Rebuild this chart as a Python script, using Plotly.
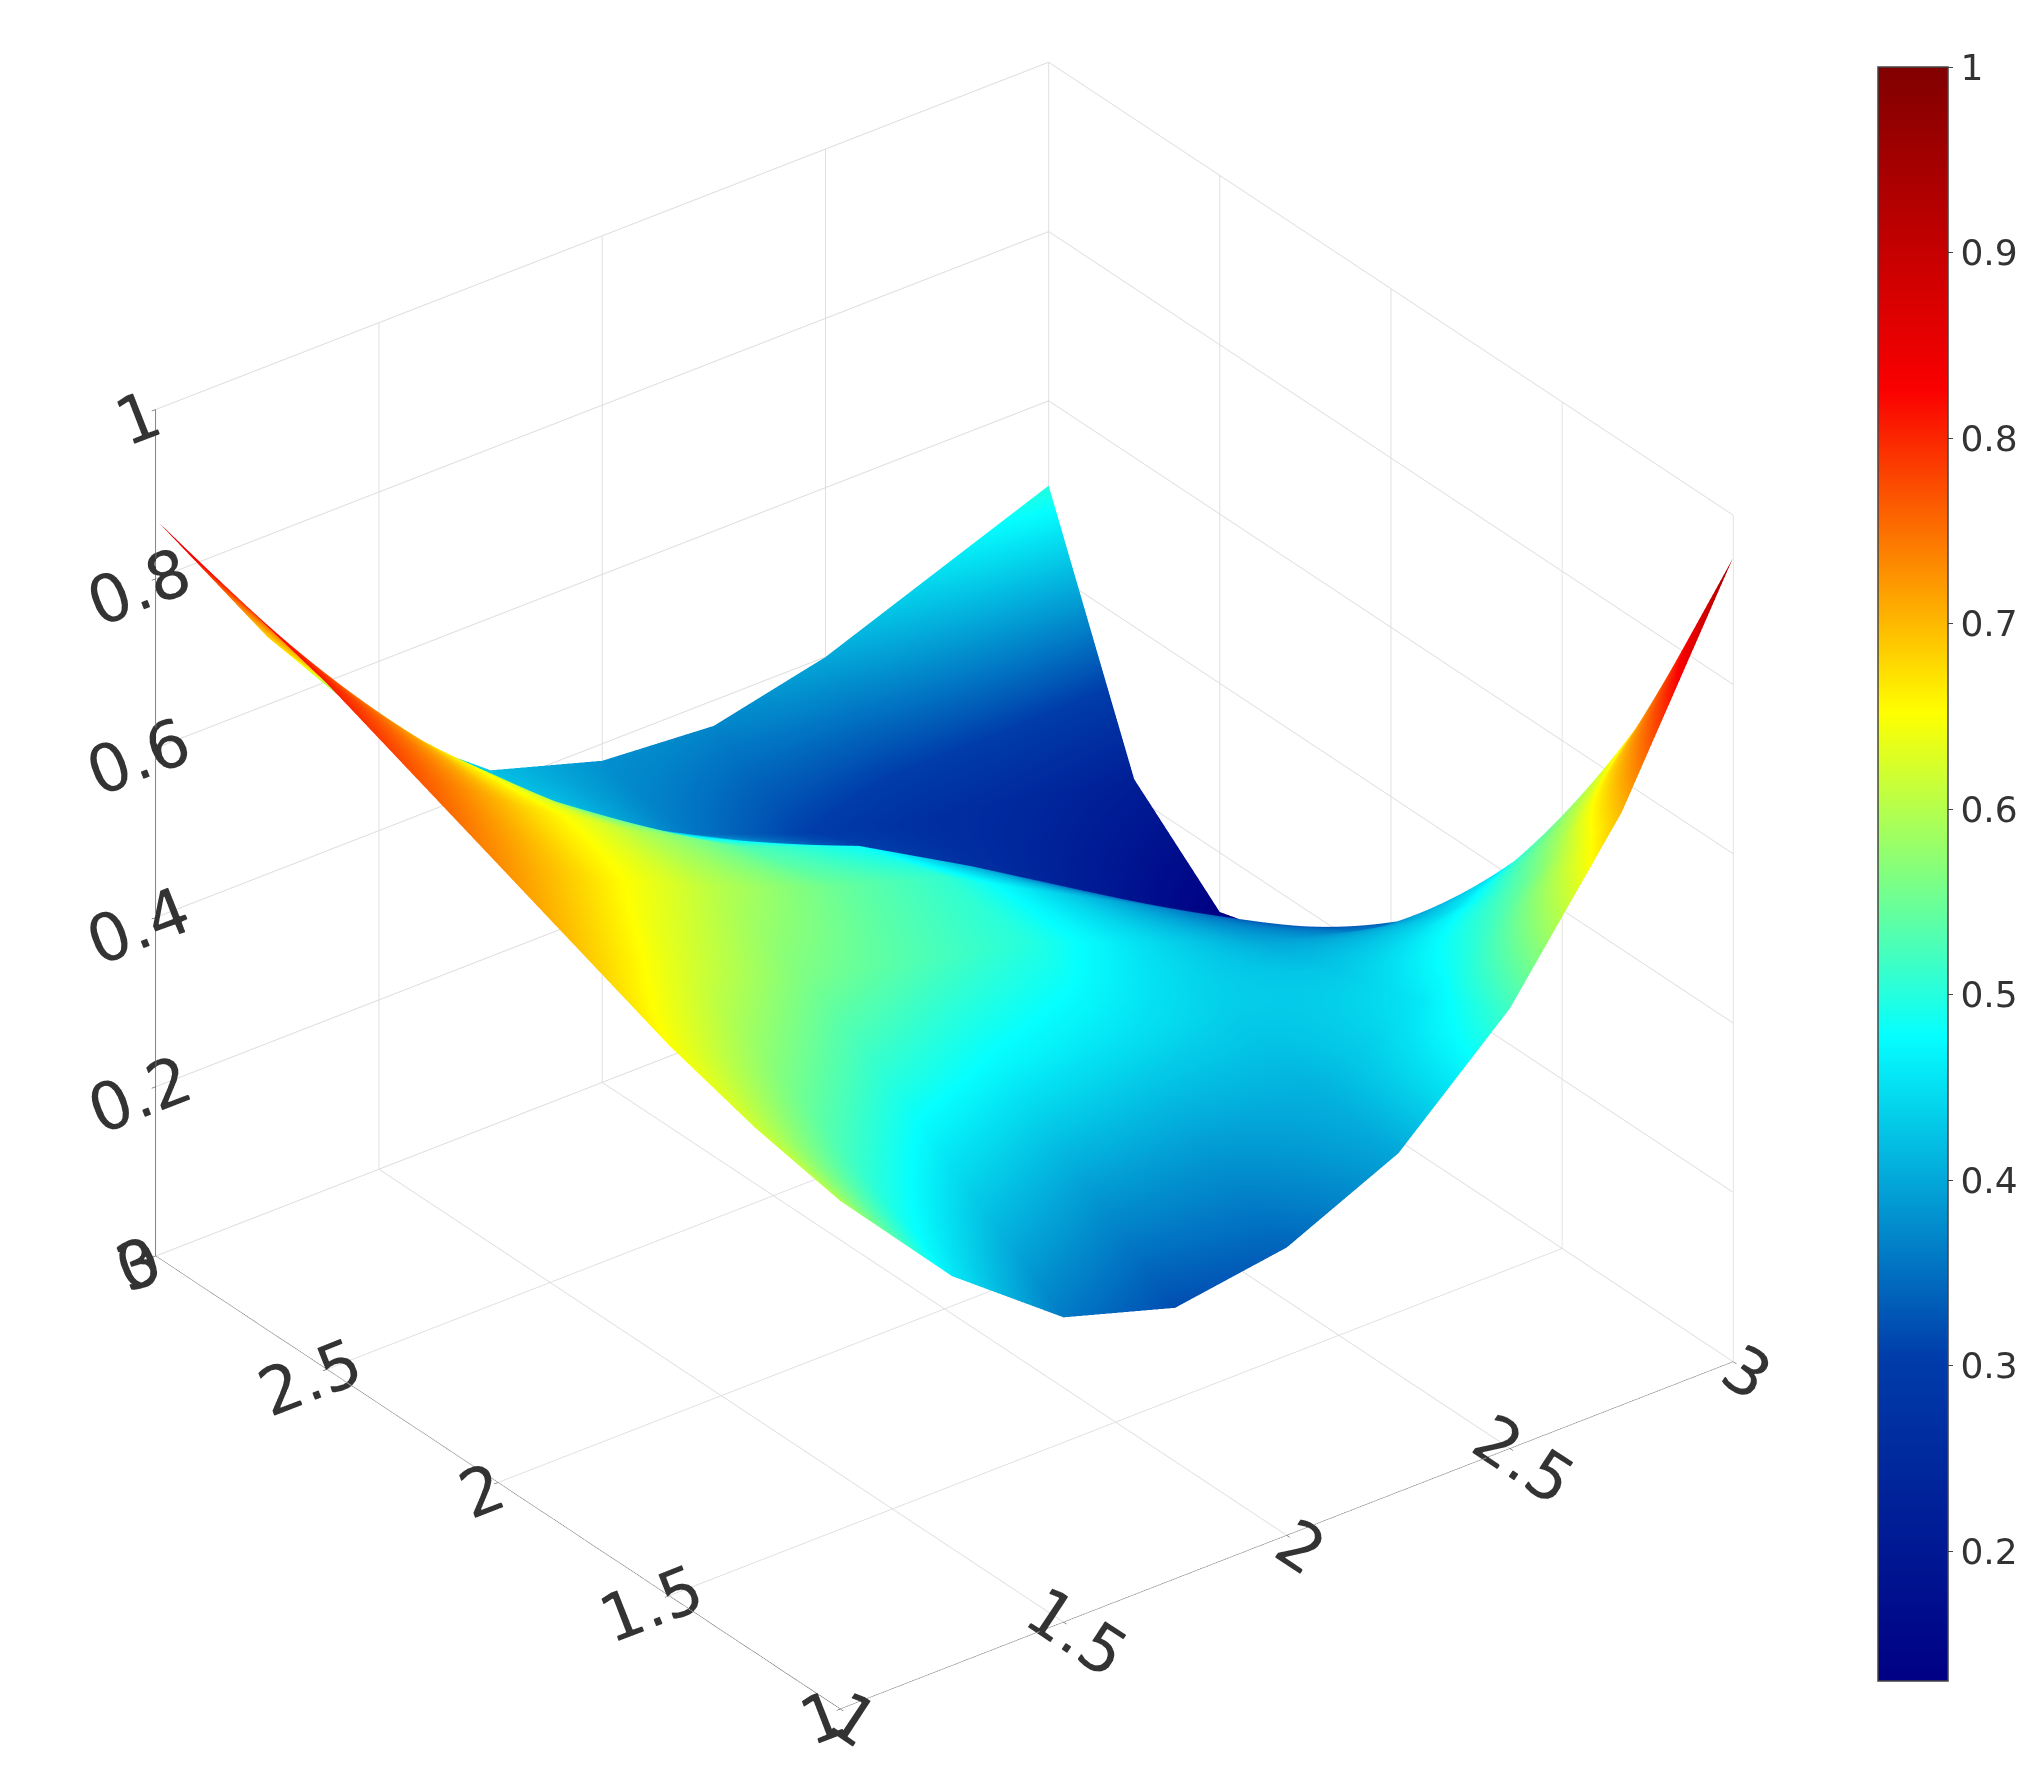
import plotly.graph_objects as go

x_vals = [1.0, 1.25, 1.5, 1.75, 2.0, 2.25, 2.5, 2.75, 3.0]
y_vals = [1.0, 1.25, 1.5, 1.75, 2.0, 2.25, 2.5, 2.75, 3.0]
# z_rows[i][j] : value at x = x_vals[i], y = y_vals[j]
z_rows = [
    [.60, .62, .65, .69, .73, .77, .81, .84, .87],
    [.46, .51, .565, .62, .66, .68, .68, .67, .68],
    [.36, .43, .50, .56, .60, .60, .57, .53, .52],
    [.32, .39, .47, .53, .55, .53, .48, .43, .42],
    [.34, .39, .455, .50, .51, .48, .415, .36, .38],
    [.40, .41, .435, .45, .44, .405, .34, .31, .37],
    [.52, .46, .43, .40, .37, .325, .27, .27, .40],
    [.70, .56, .45, .36, .30, .24, .20, .25, .45],
    [.95, .70, .50, .34, .23, .16, .13, .22, .50],
]
z_grid = [[z_rows[i][j] for i in range(len(x_vals))] for j in range(len(y_vals))]

fig = go.Figure(go.Surface(
    x=x_vals, y=y_vals, z=z_grid, colorscale="Jet", cmin=0.13, cmax=1.0,
    showscale=True, lighting=dict(ambient=1, diffuse=0, specular=0, roughness=1, fresnel=0),
    colorbar=dict(tickvals=[0.2, 0.3, 0.4, 0.5, 0.6, 0.7, 0.8, 0.9, 1.0],
                  len=0.915, thickness=70, x=0.913, xanchor="left", y=0.515, outlinewidth=1.5,
                  tickfont=dict(size=36, family="DejaVu Sans", color="#333"), ticks="outside"),
))
ax = dict(showbackground=False, gridcolor="#dcdcdc", showline=True, linecolor="#222",
          ticks="outside", tickcolor="#222", title="", zeroline=False,
          tickfont=dict(size=28, family="DejaVu Sans", color="#333"))
fig.update_layout(
    width=2037, height=1786, paper_bgcolor="white",
    margin=dict(l=0, r=0, t=0, b=0),
    scene=dict(
        xaxis=dict(ax, range=[1, 3], tickvals=[1, 1.5, 2, 2.5, 3]),
        yaxis=dict(ax, range=[1, 3], tickvals=[1, 1.5, 2, 2.5, 3]),
        zaxis=dict(ax, range=[0, 1], tickvals=[0, 0.2, 0.4, 0.6, 0.8, 1]),
        aspectmode="manual", aspectratio=dict(x=1.26, y=1.26, z=1.1),
        camera=dict(eye=dict(x=-0.92, y=-1.2, z=0.87), center=dict(x=0, y=0, z=-0.02),
                    projection=dict(type="orthographic")),
        domain=dict(x=[0.01, 0.91], y=[0, 1]),
    ),
)
fig.write_html("out.html")
